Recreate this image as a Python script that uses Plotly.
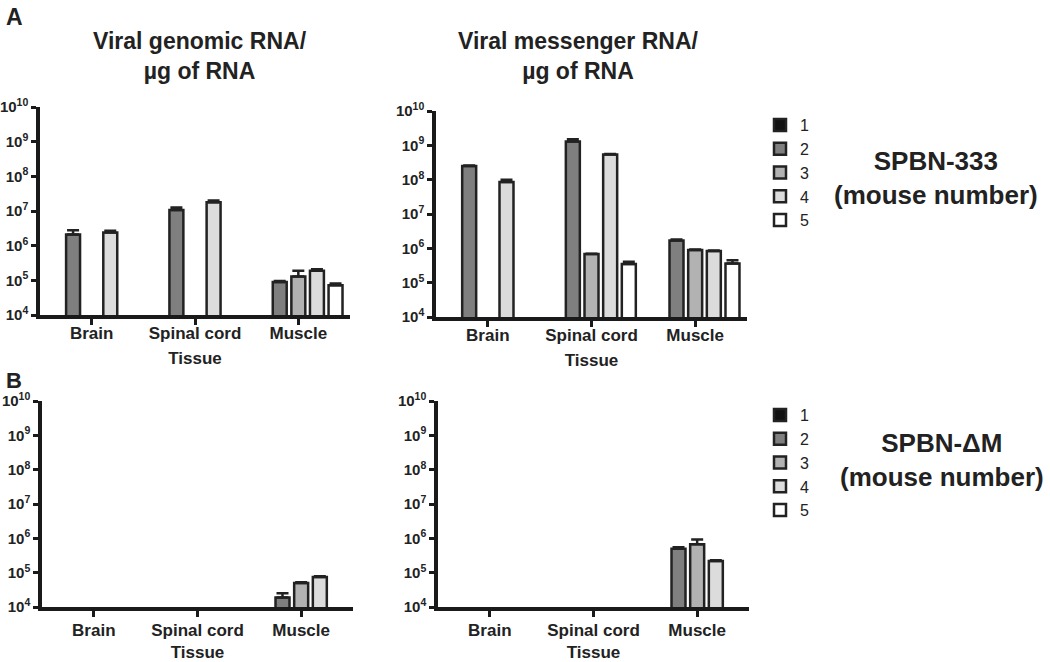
import plotly.graph_objects as go

W, H = 1050, 662

tissues = ["Brain", "Spinal cord", "Muscle"]
mice = ["1", "2", "3", "4", "5"]
bar_colors = ["#111111", "#7f7f7f", "#b2b2b2", "#dcdcdc", "#ffffff"]

# values per mouse (Brain, Spinal cord, Muscle); None = no bar
gen333 = {
    "1": [None, None, None],
    "2": [2.1e6, 1.07e7, 9.0e4],
    "3": [None, None, 1.3e5],
    "4": [2.4e6, 1.8e7, 1.9e5],
    "5": [None, None, 7.2e4],
}
gen333_err = {
    "1": [0, 0, 0],
    "2": [0.7e6, 0.2e7, 0.6e4],
    "3": [0, 0, 0.6e5],
    "4": [0.3e6, 0.2e7, 0.2e5],
    "5": [0, 0, 0.9e4],
}
mes333 = {
    "1": [None, None, None],
    "2": [2.5e8, 1.3e9, 1.7e6],
    "3": [None, 6.8e5, 9.0e5],
    "4": [8.5e7, 5.4e8, 8.4e5],
    "5": [None, 3.5e5, 3.6e5],
}
mes333_err = {
    "1": [0, 0, 0],
    "2": [0.1e8, 0.2e9, 0.1e6],
    "3": [0, 0.2e5, 0.2e5],
    "4": [1.5e7, 0.2e8, 0.2e5],
    "5": [0, 0.6e5, 0.9e5],
}
genDM = {
    "1": [None, None, None],
    "2": [None, None, 1.9e4],
    "3": [None, None, 5.0e4],
    "4": [None, None, 7.5e4],
    "5": [None, None, None],
}
genDM_err = {
    "1": [0, 0, 0],
    "2": [0, 0, 0.6e4],
    "3": [0, 0, 0.3e4],
    "4": [0, 0, 0.4e4],
    "5": [0, 0, 0],
}
mesDM = {
    "1": [None, None, None],
    "2": [None, None, 5.0e5],
    "3": [None, None, 6.7e5],
    "4": [None, None, 2.2e5],
    "5": [None, None, None],
}
mesDM_err = {
    "1": [0, 0, 0],
    "2": [0, 0, 0.5e5],
    "3": [0, 0, 2.5e5],
    "4": [0, 0, 0.1e5],
    "5": [0, 0, 0],
}

ytickvals = [1e4, 1e5, 1e6, 1e7, 1e8, 1e9, 1e10]
yticktext = ["10<sup>%d</sup>" % e for e in range(4, 11)]

panel_titles = ["Viral genomic RNA/<br>µg of RNA", "Viral messenger RNA/<br>µg of RNA"]
group_labels = ["SPBN-333<br>(mouse number)", "SPBN-\u0394M<br>(mouse number)"]

TXT = "#222222"
FONT = "Liberation Sans, Arial, sans-serif"


def px_x(p):
    return p / W


def px_y(p):
    return 1 - p / H


# panel pixel boxes: (x0, x1, ytop, ybottom), tick label standoff
panels = [
    ("x", "y", (40, 350, 107, 315), gen333, gen333_err, "legend", -6),
    ("x2", "y2", (436, 747, 111, 317), mes333, mes333_err, None, -6),
    ("x3", "y3", (42, 353, 401, 607), genDM, genDM_err, "legend2", -1),
    ("x4", "y4", (438, 749, 401, 607), mesDM, mesDM_err, None, -1),
]

fig = go.Figure()
for xa, ya, box, vals, errs, leg, sto in panels:
    for i, m in enumerate(mice):
        fig.add_trace(go.Bar(
            x=tissues, y=vals[m], name=m, xaxis=xa, yaxis=ya,
            marker=dict(color=bar_colors[i], line=dict(color="#222222", width=2.5)),
            error_y=dict(type="data", array=errs[m],
                         arrayminus=[0, 0, 0], symmetric=False,
                         color="#222222", thickness=2.5, width=6),
            showlegend=leg is not None,
            legend=leg if leg else "legend",
            hoverinfo="skip",
        ))

layout = dict(
    width=W, height=H, margin=dict(l=0, r=0, t=0, b=0, autoexpand=False),
    paper_bgcolor="white", plot_bgcolor="white",
    barmode="group", bargap=0.1, bargroupgap=0.25,
    font=dict(family=FONT, color=TXT),
)
for k, (xa, ya, box, vals, errs, leg, sto) in enumerate(panels):
    x0, x1, yt, yb = box
    xname = "xaxis" if k == 0 else "xaxis%d" % (k + 1)
    yname = "yaxis" if k == 0 else "yaxis%d" % (k + 1)
    layout[xname] = dict(
        domain=[px_x(x0), px_x(x1)], anchor=ya, type="category", automargin=False,
        range=[-0.5, 2.5], showline=True, linecolor="#1a1a1a", linewidth=3.5,
        ticks="outside", ticklen=6, tickwidth=3, tickcolor="#1a1a1a",
        ticklabelstandoff=sto,
        showgrid=False, zeroline=False,
        tickfont=dict(family=FONT, size=17, color=TXT, weight="bold"),
        title=dict(text="Tissue", standoff=11,
                   font=dict(family=FONT, size=17, color=TXT, weight="bold")),
    )
    layout[yname] = dict(
        domain=[px_y(yb), px_y(yt)], anchor=xa, type="log", automargin=False,
        range=[4, 10], showline=True, linecolor="#1a1a1a", linewidth=3.5,
        ticks="outside", ticklen=5, tickwidth=3, tickcolor="#1a1a1a",
        tickvals=ytickvals, ticktext=yticktext,
        showgrid=False, zeroline=False,
        tickfont=dict(family=FONT, size=15, color=TXT, weight="bold"),
    )

layout["legend"] = dict(x=px_x(760), y=px_y(108), xanchor="left", yanchor="top",
                        font=dict(family=FONT, size=16, color=TXT),
                        bgcolor="rgba(0,0,0,0)", itemclick=False)
layout["legend2"] = dict(x=px_x(760), y=px_y(398), xanchor="left", yanchor="top",
                         font=dict(family=FONT, size=16, color=TXT),
                         bgcolor="rgba(0,0,0,0)", itemclick=False)

annotations = [
    dict(text="A", x=px_x(4), y=px_y(2), xanchor="left", yanchor="top",
         font=dict(family=FONT, size=23, color=TXT, weight="bold")),
    dict(text="B", x=px_x(4), y=px_y(366), xanchor="left", yanchor="top",
         font=dict(family=FONT, size=22, color=TXT, weight="bold")),
    dict(text=panel_titles[0], x=px_x(200), y=px_y(56), xanchor="center", yanchor="middle",
         font=dict(family=FONT, size=23, color=TXT, weight="bold")),
    dict(text=panel_titles[1], x=px_x(578), y=px_y(56), xanchor="center", yanchor="middle",
         font=dict(family=FONT, size=23, color=TXT, weight="bold")),
    dict(text=group_labels[0], x=px_x(936), y=px_y(178), xanchor="center", yanchor="middle",
         font=dict(family=FONT, size=26, color=TXT, weight="bold")),
    dict(text=group_labels[1], x=px_x(942), y=px_y(460), xanchor="center", yanchor="middle",
         font=dict(family=FONT, size=26, color=TXT, weight="bold")),
]
for a in annotations:
    a.update(xref="paper", yref="paper", showarrow=False)
layout["annotations"] = annotations

fig.update_layout(**layout)
fig.write_html("out.html", config={"displayModeBar": False},
               post_script="document.body.style.margin='0';")
